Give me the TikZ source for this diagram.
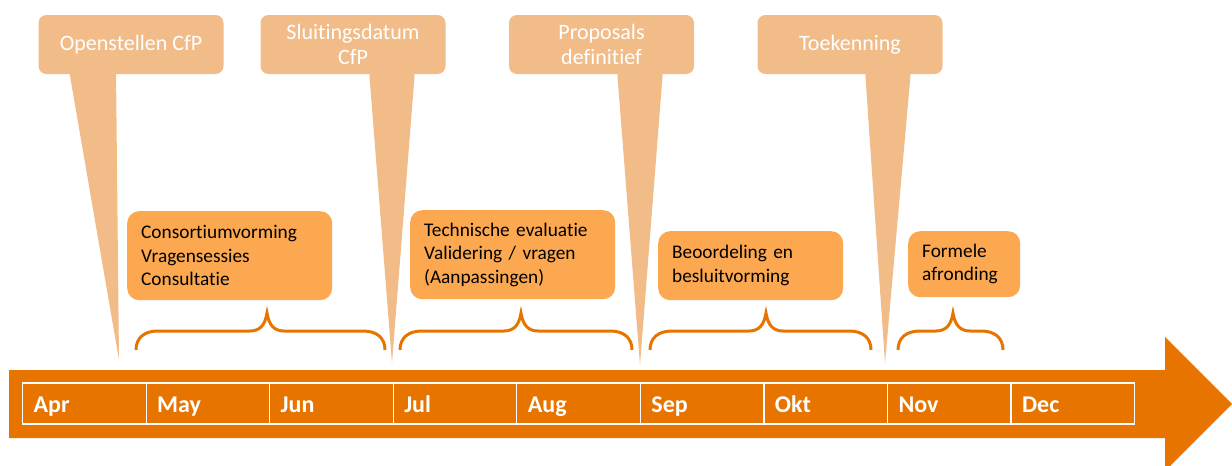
\documentclass[tikz,border=0pt]{standalone}
\usepackage{fontspec}
\setmainfont{Carlito}[Ligatures=CommonOff]
\definecolor{lightor}{HTML}{F2BC89}
\definecolor{midor}{HTML}{FBA850}
\definecolor{darkor}{HTML}{E87400}
\tikzset{
  callout/.style={fill=lightor, rounded corners=8pt, minimum width=185pt, minimum height=59pt,
    inner sep=0pt, text=white, align=center, font=\fontsize{22}{25.5}\selectfont},
  tail/.style={fill=lightor},
  actbox/.style={fill=midor, rounded corners=12pt, anchor=north west, inner xsep=14pt,
    inner ysep=0pt, align=left, text=black, font=\fontsize{19.3}{23.5}\selectfont},
  bracepath/.style={draw=darkor, line width=3pt},
  month/.style={draw=white, line width=1.2pt, minimum width=123.56pt, minimum height=41pt,
    anchor=west, inner xsep=11pt, inner ysep=0pt, text width=101.56pt, align=left, text=white,
    text height=19pt, text depth=2pt,
    font=\bfseries\fontsize{24}{26}\selectfont},
}
\newcommand\mybrace[3]{%
  \draw[bracepath] (#1,350) .. controls (#1,338) and ({#1+8},331) .. ({#1+22},331)
    -- ({#2-17},331) .. controls ({#2-8},331) and ({#2-2},326) .. (#2,313)
    .. controls ({#2+2},326) and ({#2+8},331) .. ({#2+17},331)
    -- ({#3-22},331) .. controls ({#3-8},331) and (#3,338) .. (#3,350);}
\begin{document}
\begin{tikzpicture}[x=1pt,y=-1pt]
\useasboundingbox (0,0) rectangle (1232,466);
\clip (0,0) rectangle (1232,466);
% tails
\coordinate (p1) at (119,360);
\coordinate (p2) at (392,363);
\coordinate (p3) at (640,365);
\coordinate (p4) at (885,363);
\fill[tail] (69,70) -- (116,70) -- (p1) -- cycle;
\fill[tail] (369,70) -- (415,70) -- (p2) -- cycle;
\fill[tail] (617,70) -- (663,70) -- (p3) -- cycle;
\fill[tail] (865,70) -- (911,70) -- (p4) -- cycle;
% callout boxes
\node[callout] (c1) at (131,44.5) {Openstellen CfP};
\node[callout] (c2) at (353,44.5) {Sluitingsdatum\\CfP};
\node[callout] (c3) at (601.5,44.5) {Proposals\\definitief};
\node[callout] (c4) at (850,44.5) {Toekenning};
% activity boxes
\node[actbox, minimum width=205pt, minimum height=89pt, text width=177pt] (a1) at (127,211)
  {Consortiumvorming\\Vragensessies\\Consultatie};
\node[actbox, minimum width=205pt, minimum height=89pt, text width=177pt] (a2) at (410,210)
  {Technische evaluatie\\Validering / vragen\\(Aanpassingen)};
\node[actbox, minimum width=185pt, minimum height=69pt, text width=157pt] (a3) at (658,231)
  {Beoordeling en\\besluitvorming};
\node[actbox, minimum width=112pt, minimum height=66pt, text width=84pt] (a4) at (908,231)
  {Formele\\afronding};
% braces
\mybrace{136}{267}{385}
\mybrace{400}{521}{632}
\mybrace{650}{766}{871}
\mybrace{898}{953}{1003}
% arrow
\fill[darkor] (9,370) -- (1165,370) -- (1165,337) -- (1232,404) -- (1165,471)
  -- (1165,438) -- (9,438) -- cycle;
% months
\foreach \m [count=\i from 0] in {Apr,May,Jun,Jul,Aug,Sep,Okt,Nov,Dec}
  \node[month] (m\i) at ({22+\i*123.56},403.5) {\m};
\end{tikzpicture}
\end{document}
